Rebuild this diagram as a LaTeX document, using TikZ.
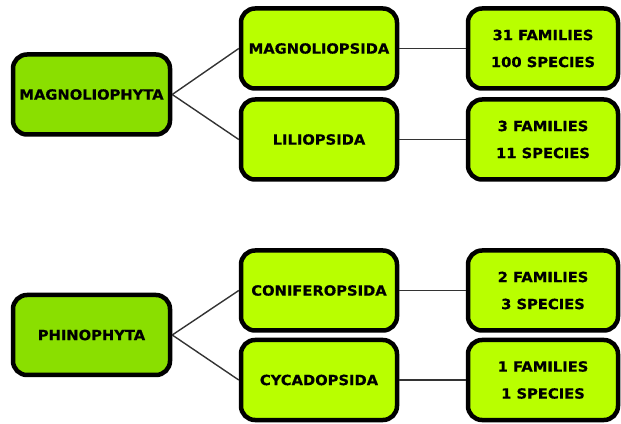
\documentclass[tikz,border=0pt]{standalone}
\usepackage{fontspec}
\newfontfamily\boxfont[FakeStretch=1.05,FakeBold=0.6]{DejaVu Sans Bold}
\usepackage{tikz}
\definecolor{phylumgreen}{HTML}{8ADF00}
\definecolor{classgreen}{HTML}{B9FF00}
\tikzset{
  taxbox/.style={draw=black,line width=4.5pt,rounded corners=14pt,
    minimum height=80pt,align=center,font=\boxfont\fontsize{14}{17}\selectfont},
  phylum/.style={taxbox,fill=phylumgreen,minimum width=157pt},
  class/.style={taxbox,fill=classgreen,minimum width=156pt},
  count/.style={taxbox,fill=classgreen,minimum width=150pt},
  link/.style={draw=black!80,line width=1.4pt}
}

\begin{document}
\begin{tikzpicture}[x=1pt,y=1pt]
          \useasboundingbox (0,0) rectangle (621,423);
          \node[phylum] (magnoliophyta) at (91.5,328.5) {MAGNOLIOPHYTA};
          \node[class] (magnoliopsida) at (319,374.5) {MAGNOLIOPSIDA};
          \node[class] (liliopsida) at (319,283.5) {LILIOPSIDA};
          \node[count] (magcount) at (543,374.5) {31 FAMILIES\\[10pt]100 SPECIES};
          \node[count] (lilcount) at (543,283.5) {3 FAMILIES\\[10pt]11 SPECIES};
          \node[phylum] (phinophyta) at (91.5,88) {PHINOPHYTA};
          \node[class] (coniferopsida) at (319,132.5) {CONIFEROPSIDA};
          \node[class] (cycadopsida) at (319,43) {CYCADOPSIDA};
          \node[count] (concount) at (543,132.5) {2 FAMILIES\\[10pt]3 SPECIES};
          \node[count] (cyccount) at (543,43) {1 FAMILIES\\[10pt]1 SPECIES};
          \draw[link] (magnoliophyta.east) -- (magnoliopsida.west);
          \draw[link] (magnoliophyta.east) -- (liliopsida.west);
          \draw[link] (magnoliopsida.east) -- (magcount.west);
          \draw[link] (liliopsida.east) -- (lilcount.west);
          \draw[link] (phinophyta.east) -- (coniferopsida.west);
          \draw[link] (phinophyta.east) -- (cycadopsida.west);
          \draw[link] (coniferopsida.east) -- (concount.west);
          \draw[link] (cycadopsida.east) -- (cyccount.west);
        \end{tikzpicture}
\end{document}
